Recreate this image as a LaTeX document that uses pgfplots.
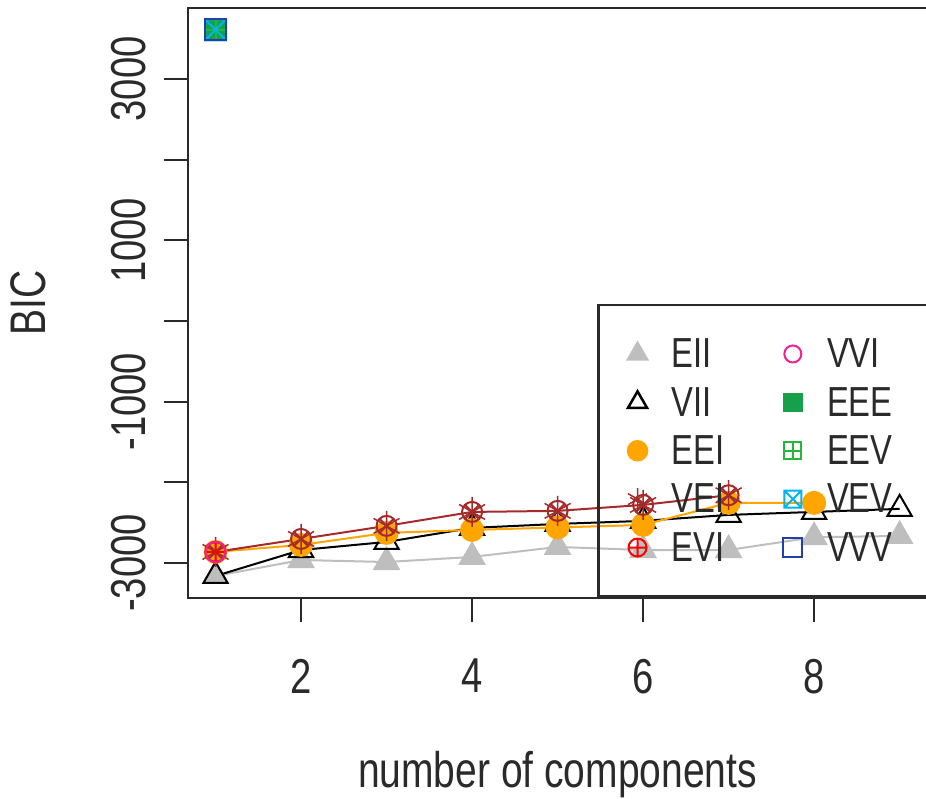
\documentclass[border=0pt]{standalone}
\usepackage{pgfplots}
\pgfplotsset{compat=1.18}
\usepackage{fontspec}
\setmainfont{Liberation Sans}[FakeStretch=0.78]
\usetikzlibrary{plotmarks}
\definecolor{frame}{HTML}{2A2A2A}
\definecolor{cEII}{HTML}{BEBEBE}
\definecolor{cVII}{HTML}{000000}
\definecolor{cEEI}{HTML}{FFA500}
\definecolor{cVEI}{HTML}{A52A2A}
\definecolor{cEVI}{HTML}{FF0000}
\definecolor{cVVI}{HTML}{F0209A}
\definecolor{cEEE}{HTML}{16A04A}
\definecolor{cEEV}{HTML}{22B83A}
\definecolor{cVEV}{HTML}{00B4F0}
\definecolor{cVVV}{HTML}{2440A8}
\pgfdeclareplotmark{boxplus}{%
  \pgfpathrectangle{\pgfqpoint{-\pgfplotmarksize}{-\pgfplotmarksize}}{\pgfqpoint{2\pgfplotmarksize}{2\pgfplotmarksize}}%
  \pgfpathmoveto{\pgfqpoint{-\pgfplotmarksize}{0pt}}\pgfpathlineto{\pgfqpoint{\pgfplotmarksize}{0pt}}%
  \pgfpathmoveto{\pgfqpoint{0pt}{-\pgfplotmarksize}}\pgfpathlineto{\pgfqpoint{0pt}{\pgfplotmarksize}}%
  \pgfusepathqstroke}
\pgfdeclareplotmark{boxtimes}{%
  \pgfpathrectangle{\pgfqpoint{-\pgfplotmarksize}{-\pgfplotmarksize}}{\pgfqpoint{2\pgfplotmarksize}{2\pgfplotmarksize}}%
  \pgfpathmoveto{\pgfqpoint{-\pgfplotmarksize}{-\pgfplotmarksize}}\pgfpathlineto{\pgfqpoint{\pgfplotmarksize}{\pgfplotmarksize}}%
  \pgfpathmoveto{\pgfqpoint{-\pgfplotmarksize}{\pgfplotmarksize}}\pgfpathlineto{\pgfqpoint{\pgfplotmarksize}{-\pgfplotmarksize}}%
  \pgfusepathqstroke}
\begin{document}
\begin{tikzpicture}
\begin{axis}[
  at={(0pt,0pt)}, anchor=south west,
  scale only axis, width=739pt, height=590pt,
  xmin=0.678, xmax=9.32, ymin=-3434, ymax=3880,
  axis line style={line width=2.5pt, color=frame},
  tick align=outside, tick pos=left,
  major tick length=24pt,
  tick style={line width=2pt, color=frame},
  xtick={2,4,6,8}, xticklabels={2,4,6,8},
  ytick={-3000,-2000,...,3000}, yticklabels={-3000,,-1000,,1000,,3000},
  /pgf/number format/assume math mode=true,
  x tick label style={font=\fontsize{49}{58}\selectfont, color=frame, inner sep=0pt, anchor=north, yshift=-37pt},
  y tick label style={font=\fontsize{49}{58}\selectfont, color=frame, inner sep=0pt, xshift=-18pt, rotate=90, anchor=base},
  xlabel={number of components},
  ylabel={BIC},
  xlabel style={font=\fontsize{50}{60}\selectfont, color=frame, inner sep=0pt, at={(axis description cs:0.5,0)}, anchor=base, yshift=-189pt},
  ylabel style={font=\fontsize{50}{60}\selectfont, color=frame, inner sep=0pt, at={(axis description cs:-0.1935,0.5)}, anchor=base},
  legend image code/.code={\path (-15pt,0pt) (33pt,0pt); \draw[#1] plot coordinates {(0pt,0pt)};},
  legend columns=2,
  legend cell align=left,
  legend style={at={(0.5535,0)}, anchor=south west, draw=frame, line width=2.5pt, fill=none,
    inner xsep=23pt, inner ysep=34pt, row sep=18pt, column sep=0pt,
    font=\fontsize{42}{50}\selectfont, text=frame,
    nodes={inner sep=0pt},
    /tikz/column 2/.style={column sep=52pt}},
]
% data (mclust BIC, in plotting order)
\addplot[forget plot, color=cEII, line width=2pt, mark=triangle*, mark size=14pt, mark options={fill=cEII}]
  coordinates {(1,-3161)(2,-2963)(3,-2988)(4,-2925)(5,-2801)(6,-2839)(7,-2839)(8,-2680)(9,-2665)};
\addplot[forget plot, color=cVII, line width=2pt, mark=triangle, mark size=14pt]
  coordinates {(1,-3161)(2,-2839)(3,-2739)(4,-2565)(5,-2516)(6,-2478)(7,-2404)(8,-2367)(9,-2329)};
\addplot[forget plot, color=cEEI, line width=2pt, mark=*, mark size=11pt, mark options={fill=cEEI}]
  coordinates {(1,-2863)(2,-2776)(3,-2627)(4,-2590)(5,-2560)(6,-2528)(7,-2255)(8,-2255)};
\addplot[forget plot, color=cVEI, line width=2pt, mark=otimes, mark size=10pt]
  coordinates {(1,-2863)(2,-2702)(3,-2540)(4,-2367)(5,-2354)(6,-2280)(7,-2160)};
\addplot[forget plot, color=cVEI, only marks, line width=1.5pt, mark=asterisk, mark size=15pt]
  coordinates {(1,-2863)(2,-2702)(3,-2540)(4,-2367)(5,-2354)(6,-2280)(7,-2160)};
\addplot[forget plot, color=cEVI, line width=2pt, mark=oplus, mark size=10pt]
  coordinates {(1,-2863)};
\addplot[forget plot, color=cVVI, line width=2pt, mark=o, mark size=10pt]
  coordinates {(1,-2863)};
\addplot[forget plot, color=cEEE, line width=2pt, mark=square*, mark size=10.5pt, mark options={fill=cEEE}]
  coordinates {(1,3609)};
\addplot[forget plot, color=cEEV, line width=2pt, mark=boxplus, mark size=10.5pt]
  coordinates {(1,3609)};
\addplot[forget plot, color=cVEV, line width=2pt, mark=boxtimes, mark size=10.5pt]
  coordinates {(1,3609)};
\addplot[forget plot, color=cVVV, line width=2pt, mark=square, mark size=10.5pt]
  coordinates {(1,3609)};
% legend (row-wise, two columns)
\addlegendimage{color=cEII, mark=triangle*, mark size=11pt, mark options={fill=cEII}}
\addlegendentry{EII}
\addlegendimage{color=cVVI, line width=2pt, mark=o, mark size=8.5pt}
\addlegendentry{VVI}
\addlegendimage{color=cVII, line width=2.5pt, mark=triangle, mark size=11pt}
\addlegendentry{VII}
\addlegendimage{color=cEEE, mark=square*, mark size=8.5pt, mark options={fill=cEEE}}
\addlegendentry{EEE\rule{40pt}{0pt}}
\addlegendimage{color=cEEI, mark=*, mark size=9.5pt, mark options={fill=cEEI}}
\addlegendentry{EEI}
\addlegendimage{color=cEEV, line width=2pt, mark=boxplus, mark size=8.5pt}
\addlegendentry{EEV}
\addlegendimage{color=cVEI, line width=1.5pt, mark=asterisk, mark size=11pt}
\addlegendentry{VEI}
\addlegendimage{color=cVEV, line width=2pt, mark=boxtimes, mark size=8.5pt}
\addlegendentry{VEV}
\addlegendimage{color=cEVI, line width=2pt, mark=oplus, mark size=9pt}
\addlegendentry{EVI}
\addlegendimage{color=cVVV, line width=2pt, mark=square, mark size=9.5pt}
\addlegendentry{VVV}
\end{axis}
\pgfresetboundingbox
\path[use as bounding box] (-188pt,-201pt) rectangle (738pt,598pt);
\end{tikzpicture}
\end{document}
